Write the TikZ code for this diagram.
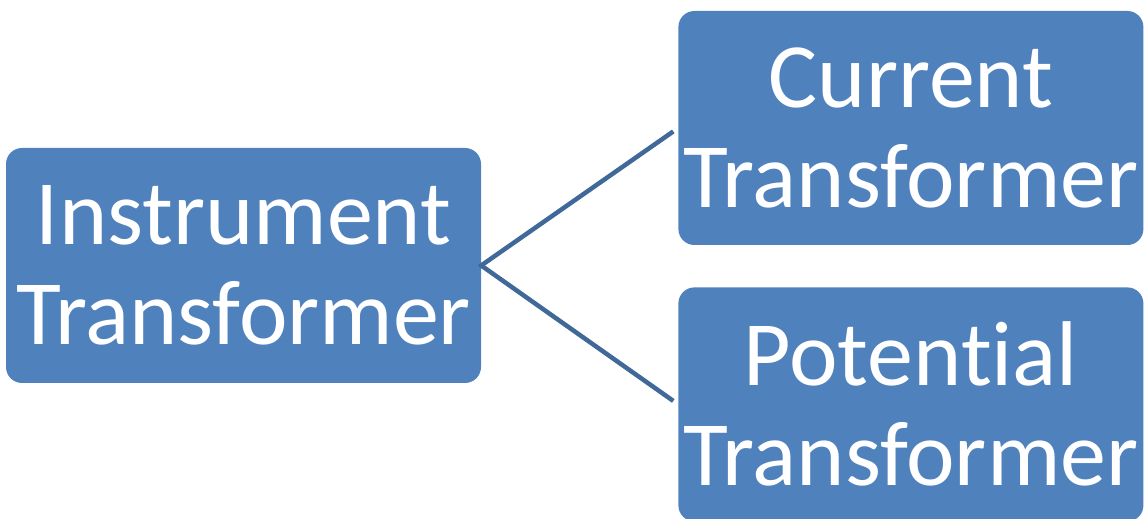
\documentclass[tikz,border=0pt]{standalone}
\usepackage{fontspec}
\usepackage{tikz}
\usetikzlibrary{positioning}
\setmainfont{Carlito}[Ligatures=NoCommon]
\definecolor{unitblue}{RGB}{79,129,189}
\definecolor{linkblue}{RGB}{64,104,152}

\begin{document}
\begin{tikzpicture}[
  x=1pt,y=1pt,
  unit/.style={
    fill=unitblue,
    rounded corners=16pt,
    minimum width=465pt,
    minimum height=234pt,
    inner sep=0pt,
    align=center,
    text=white,
    font=\fontsize{92}{100}\selectfont
  },
  link/.style={line width=4.5pt,draw=linkblue,shorten <=-2pt,shorten >=6pt}
]
\useasboundingbox (0,0) rectangle (1144,519);
\node[unit,minimum width=475pt,minimum height=235pt] (instr) at (243.5,253.5)
  {Instrument\\Transformer};
\node[unit,right=197pt of instr,yshift=137.5pt] (ct)
  {Current\\Transformer};
\node[unit,below=42pt of ct] (pt)
  {Potential\\Transformer};
\draw[link] (instr.east) -- (ct.west);
\draw[link] (instr.east) -- (pt.west);
\end{tikzpicture}
\end{document}
